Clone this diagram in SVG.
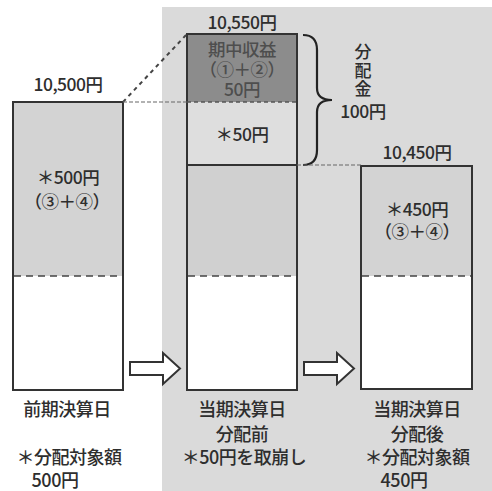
<svg xmlns="http://www.w3.org/2000/svg" width="492" height="491" viewBox="0 0 492 491">
<style>
text{font-family:"Noto Sans CJK JP","Noto Sans",sans-serif;fill:#2e2e2e;text-anchor:middle;font-weight:500;}
.v{font-size:17.5px;letter-spacing:-0.5px;}
.l{font-size:18px;letter-spacing:-0.5px;}
.s{font-size:17px;}
.dk{fill:#4e4e4e;}
.box{stroke:#333;stroke-width:2;}
.dash{stroke:#444;stroke-width:1.5;stroke-dasharray:7 5;fill:none;}
.arrow{fill:#fff;stroke:#333;stroke-width:2;stroke-linejoin:miter;}
</style>
<rect width="492" height="491" fill="#fff"/>
<rect x="162" y="7" width="330" height="484" fill="#dadada"/>

<g id="node-prev">
<rect x="13" y="102" width="110" height="174" fill="#d3d3d3"/>
<rect x="13" y="276" width="110" height="114" fill="#fff"/>
<rect class="box" x="13" y="102" width="110" height="288" fill="none"/>
<line class="dash" x1="14" y1="276" x2="122" y2="276"/>
<text class="v" x="68" y="91">10,500円</text>
<text class="v" x="68" y="184">＊500円</text>
<text class="v" x="67" y="208">（③＋④）</text>
<text class="l" x="67" y="416">前期決算日</text>
<text class="l" x="69" y="464">＊分配対象額</text>
<text class="l" x="55" y="487">500円</text>
</g>

<g id="node-before">
<rect x="187" y="34" width="110" height="68" fill="#8c8c8c"/>
<rect x="187" y="102" width="110" height="63" fill="#dedede"/>
<rect x="187" y="165" width="110" height="111" fill="#d0d0d0"/>
<rect x="187" y="276" width="110" height="114" fill="#fff"/>
<rect class="box" x="187" y="34" width="110" height="356" fill="none"/>
<line class="box" x1="187" y1="165" x2="297" y2="165"/>
<line x1="187" y1="102" x2="297" y2="102" stroke="#555" stroke-width="1.5" stroke-dasharray="4 3"/>
<line class="dash" x1="188" y1="276" x2="296" y2="276"/>
<text class="v" x="242" y="29">10,550円</text>
<text class="v dk" x="242" y="56">期中収益</text>
<text class="v dk" x="242" y="76">（①＋②）</text>
<text class="v dk" x="242" y="96">50円</text>
<text class="v" x="242" y="141">＊50円</text>
<text class="l" x="242" y="416">当期決算日</text>
<text class="l" x="242" y="441">分配前</text>
<text class="l" x="244" y="464">＊50円を取崩し</text>
</g>

<g id="node-dist">
<path d="M303,35 Q317,35 317,50 L317,88 Q317,100 332,100 Q317,100 317,112 L317,150 Q317,165 303,165" fill="none" stroke="#222" stroke-width="2.2"/>
<text class="s" x="363" y="58">分</text>
<text class="s" x="363" y="77">配</text>
<text class="s" x="363" y="95">金</text>
<text class="v" x="363" y="118">100円</text>
</g>

<g id="node-after">
<rect x="361" y="166" width="111" height="110" fill="#d3d3d3"/>
<rect x="361" y="276" width="111" height="113" fill="#fff"/>
<rect class="box" x="361" y="166" width="111" height="223" fill="none"/>
<line class="dash" x1="362" y1="276" x2="471" y2="276"/>
<text class="v" x="417" y="159">10,450円</text>
<text class="v" x="417" y="216">＊450円</text>
<text class="v" x="417" y="238">（③＋④）</text>
<text class="l" x="417" y="416">当期決算日</text>
<text class="l" x="417" y="441">分配後</text>
<text class="l" x="417" y="464">＊分配対象額</text>
<text class="l" x="404" y="487">450円</text>
</g>

<g id="connectors">
<line x1="123" y1="102" x2="187" y2="34" stroke="#444" stroke-width="2" stroke-dasharray="4 4"/>
<line x1="123" y1="102" x2="187" y2="102" stroke="#666" stroke-width="1.2" stroke-dasharray="4 2"/>
<line x1="297" y1="165" x2="361" y2="165" stroke="#666" stroke-width="1.2" stroke-dasharray="4 2"/>
<path class="arrow" d="M130,362 L163,362 L163,353 L180,368.5 L163,384 L163,375 L130,375 Z"/>
<path class="arrow" d="M304,362 L337,362 L337,353 L354,368.5 L337,384 L337,375 L304,375 Z"/>
</g>
</svg>
